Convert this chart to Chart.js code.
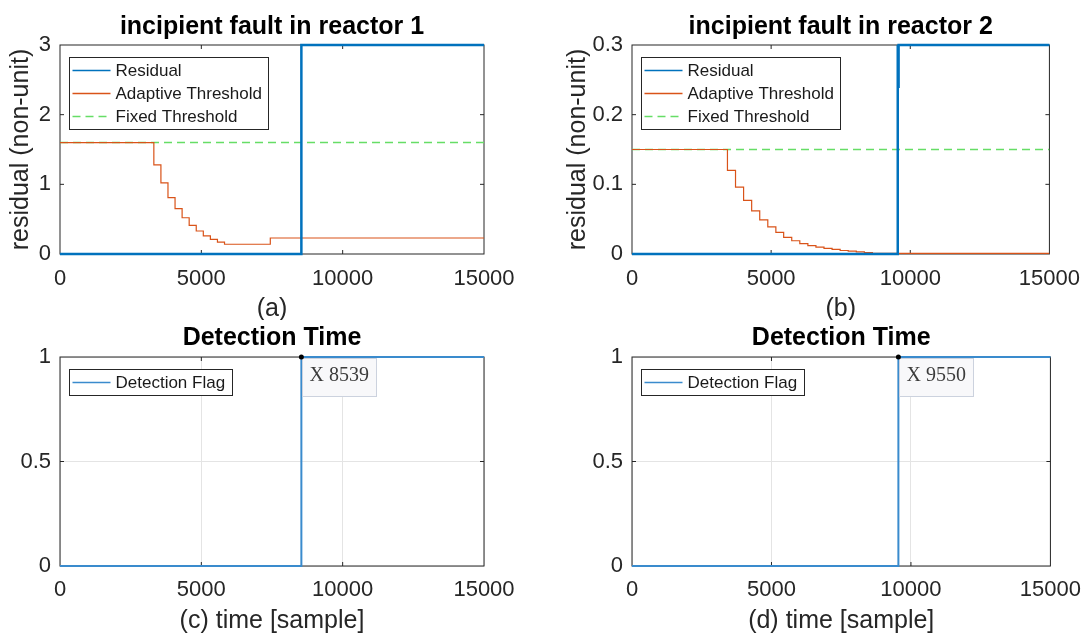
<!DOCTYPE html>
<html>
<head>
<meta charset="utf-8">
<title>Incipient fault detection</title>
<script src="https://cdn.jsdelivr.net/npm/chart.js@4.4.1/dist/chart.umd.min.js"></script>
<style>
    html, body { margin: 0; padding: 0; background: #fff; }
    #page { position: relative; width: 1092px; height: 637px; overflow: hidden; }
    .cell { position: absolute; }
</style>
</head>
<body>
<div id="page">
    <div class="cell" style="left:0;top:0;width:546px;height:320px"><canvas id="panel-a"></canvas></div>
    <div class="cell" style="left:546px;top:0;width:546px;height:320px"><canvas id="panel-b"></canvas></div>
    <div class="cell" style="left:0;top:320px;width:546px;height:317px"><canvas id="panel-c"></canvas></div>
    <div class="cell" style="left:546px;top:320px;width:546px;height:317px"><canvas id="panel-d"></canvas></div>
</div>
<script>
'use strict';

/* ── datos ─────────────────────────────────────────────────────────────── */
const xTicks     = [0, 5000, 10000, 15000];
const yTicksA    = [0, 1, 2, 3];
const yTicksB    = [0, 0.1, 0.2, 0.3];
const yTicksFlag = [0, 0.5, 1];

// (a) reactor 1
const resA_x = [0, 8539, 8539, 15000];
const resA_y = [0, 0, 3, 3];
const adaA_x = [0, 3320, 3570, 3820, 4070, 4320, 4570, 4820, 5070, 5320, 5570, 5820, 7440, 15000];
const adaA_y = [1.6, 1.28, 1.02, 0.81, 0.65, 0.52, 0.41, 0.33, 0.26, 0.21, 0.17, 0.14, 0.23, 0.23];
const fixA_x = [0, 15000];
const fixA_y = [1.6, 1.6];

// (b) reactor 2
const resB_x = [0, 9550, 9550, 9565, 9580, 15000];
const resB_y = [0, 0, 0.3, 0.24, 0.3, 0.3];
const adaB_x = [0, 3430, 3720, 4010, 4300, 4590, 4880, 5170, 5450, 5740, 6030, 6320, 6610, 6900, 7190, 7480, 7770, 8060, 8350, 8640, 15000];
const adaB_y = [0.15, 0.12, 0.096, 0.077, 0.062, 0.049, 0.039, 0.031, 0.024, 0.019, 0.015, 0.012, 0.010, 0.008, 0.0065, 0.005, 0.004, 0.003, 0.002, 0.001, 0.001];
const fixB_x = [0, 15000];
const fixB_y = [0.15, 0.15];

// (c) / (d) detection flags
const flagC_x = [0, 8539, 8539, 15000];
const flagC_y = [0, 0, 1, 1];
const flagD_x = [0, 9550, 9550, 15000];
const flagD_y = [0, 0, 1, 1];
const tipC = [8539, 1];
const tipD = [9550, 1];

/* ── estilos ───────────────────────────────────────────────────────────── */
const AXIS_COLOR = '#262626';
const GRID_COLOR = '#e4e4e4';
const BLUE   = '#0072BD';
const ORANGE = '#D95319';
const GREEN  = '#66dd66';

Chart.defaults.font.family = "'Liberation Sans', Arial, Helvetica, sans-serif";
Chart.defaults.color = AXIS_COLOR;

const pts = (xs, ys) => xs.map((x, i) => ({ x, y: ys[i] }));

/* Caja de ejes estilo MATLAB: marco completo + marcas hacia dentro */
const axesBox = {
    id: 'axesBox',
    beforeDatasetsDraw(chart) {
        const { ctx, chartArea: a, scales } = chart;
        ctx.save();
        ctx.strokeStyle = AXIS_COLOR;
        ctx.lineWidth = 1;
        ctx.strokeRect(a.left, a.top, a.width, a.height);
        ctx.beginPath();
        scales.x.ticks.forEach(t => {
            const px = scales.x.getPixelForValue(t.value);
            if (px <= a.left + 1 || px >= a.right - 1) return;
            ctx.moveTo(px, a.bottom); ctx.lineTo(px, a.bottom - 4);
            ctx.moveTo(px, a.top);    ctx.lineTo(px, a.top + 4);
        });
        scales.y.ticks.forEach(t => {
            const py = scales.y.getPixelForValue(t.value);
            if (py <= a.top + 1 || py >= a.bottom - 1) return;
            ctx.moveTo(a.left, py);  ctx.lineTo(a.left + 4, py);
            ctx.moveTo(a.right, py); ctx.lineTo(a.right - 4, py);
        });
        ctx.stroke();
        ctx.restore();
    }
};

/* Leyenda con borde dentro del área de trazado */
const boxLegend = {
    id: 'boxLegend',
    afterDatasetsDraw(chart) {
        const items = chart.data.datasets;
        const { ctx, chartArea: a } = chart;
        ctx.save();
        ctx.font = "17px 'Liberation Sans', Arial, sans-serif";
        const textW = Math.max(...items.map(d => ctx.measureText(d.label).width));
        const x0 = Math.round(a.left + 9) + 0.5;
        const y0 = Math.round(a.top + 12) + 0.5;
        const rowH = 23;
        const w = Math.round(46 + textW + 7);
        const h = 26 + rowH * (items.length - 1);
        ctx.fillStyle = '#fff';
        ctx.fillRect(x0, y0, w, h);
        ctx.strokeStyle = AXIS_COLOR;
        ctx.lineWidth = 1;
        ctx.strokeRect(x0, y0, w, h);
        items.forEach((d, i) => {
            const cy = y0 + 13 + i * rowH;
            ctx.beginPath();
            ctx.strokeStyle = d.borderColor;
            ctx.lineWidth = 1.5;
            ctx.setLineDash(d.borderDash || []);
            ctx.moveTo(x0 + 3, cy);
            ctx.lineTo(x0 + 41, cy);
            ctx.stroke();
            ctx.setLineDash([]);
            ctx.fillStyle = '#1a1a1a';
            ctx.textBaseline = 'middle';
            ctx.fillText(d.label, x0 + 46, cy + 1);
        });
        ctx.restore();
    }
};

/* Data tip "X nnnn" en el punto de detección */
const dataTip = {
    id: 'dataTip',
    afterDatasetsDraw(chart, args, opts) {
        if (!opts || !opts.point) return;
        const { ctx, scales } = chart;
        const px = scales.x.getPixelForValue(opts.point[0]);
        const py = scales.y.getPixelForValue(opts.point[1]);
        const text = 'X ' + opts.point[0];
        ctx.save();
        ctx.font = "20px 'Liberation Serif', 'Times New Roman', serif";
        const w = Math.round(ctx.measureText(text).width + 15);
        const h = 38;
        const bx = Math.round(px) + 1.5, by = Math.round(py) + 1.5;
        ctx.fillStyle = '#f8f8fa';
        ctx.fillRect(bx, by, w, h);
        ctx.strokeStyle = '#ccd2de';
        ctx.lineWidth = 1;
        ctx.strokeRect(bx, by, w, h);
        ctx.fillStyle = '#3c3c3c';
        ctx.textBaseline = 'middle';
        ctx.fillText(text, bx + 7, by + 17);
        ctx.beginPath();
        ctx.fillStyle = '#000';
        ctx.arc(px, py, 2.5, 0, Math.PI * 2);
        ctx.fill();
        ctx.restore();
    }
};

Chart.register(axesBox, boxLegend, dataTip);

function makePanel(id, p) {
    new Chart(document.getElementById(id), {
        type: 'line',
        data: { datasets: p.datasets },
        options: {
            responsive: true,
            maintainAspectRatio: false,
            animation: false,
            events: [],
            layout: { padding: p.pad },
            elements: { point: { radius: 0 } },
            plugins: {
                legend: { display: false },
                tooltip: { enabled: false },
                title: {
                    display: true,
                    text: p.title,
                    fullSize: false,
                    color: '#000',
                    font: { size: 25, weight: 'bold', lineHeight: 1 },
                    padding: p.titlePad
                },
                dataTip: { point: p.tip || null }
            },
            scales: {
                x: {
                    type: 'linear',
                    min: 0,
                    max: 15000,
                    afterBuildTicks: s => { s.ticks = xTicks.map(v => ({ value: v })); },
                    afterFit: s => { s.height = p.xH; },
                    grid: { display: p.grid, color: GRID_COLOR, drawTicks: false },
                    border: { display: false },
                    ticks: {
                        padding: p.tickPad,
                        font: { size: 22 },
                        maxRotation: 0,
                        autoSkip: false,
                        callback: v => String(v)
                    },
                    title: {
                        display: true,
                        text: p.xTitle,
                        font: { size: 25, lineHeight: 1 },
                        padding: { top: 0, bottom: p.xTitlePad }
                    }
                },
                y: {
                    type: 'linear',
                    min: 0,
                    max: p.yTicks[p.yTicks.length - 1],
                    afterBuildTicks: s => { s.ticks = p.yTicks.map(v => ({ value: v })); },
                    afterFit: s => { s.width = p.yW; },
                    grid: { display: p.grid, color: GRID_COLOR, drawTicks: false },
                    border: { display: false },
                    ticks: {
                        padding: 9,
                        font: { size: 22 },
                        callback: v => String(v)
                    },
                    title: {
                        display: !!p.yTitle,
                        text: p.yTitle || '',
                        font: { size: 25, lineHeight: 1 },
                        padding: { top: p.yTitlePad || 0, bottom: 0 }
                    }
                }
            }
        }
    });
}

const residualDs = (xs, ys) => ({
    label: 'Residual', data: pts(xs, ys),
    borderColor: BLUE, borderWidth: 2.5, pointRadius: 0, clip: false
});
const adaptiveDs = (xs, ys) => ({
    label: 'Adaptive Threshold', data: pts(xs, ys),
    borderColor: ORANGE, borderWidth: 1.2, pointRadius: 0, stepped: 'before'
});
const fixedDs = (xs, ys) => ({
    label: 'Fixed Threshold', data: pts(xs, ys),
    borderColor: GREEN, borderWidth: 1.5, borderDash: [8, 5], pointRadius: 0
});
const flagDs = (xs, ys) => ({
    label: 'Detection Flag', data: pts(xs, ys),
    borderColor: '#3a8bcd', borderWidth: 2, pointRadius: 0, clip: false
});

makePanel('panel-a', {
    datasets: [residualDs(resA_x, resA_y), adaptiveDs(adaA_x, adaA_y), fixedDs(fixA_x, fixA_y)],
    pad: { left: 0, right: 62, top: 0, bottom: 0 },
    title: 'incipient fault in reactor 1', titlePad: { top: 14.5, bottom: 5.5 },
    yW: 60, yTitle: 'residual (non-unit)', yTitlePad: 8.5, yTicks: yTicksA,
    xH: 66, xTitle: '(a)', xTitlePad: -2, tickPad: 12, grid: false
});

makePanel('panel-b', {
    datasets: [residualDs(resB_x, resB_y), adaptiveDs(adaB_x, adaB_y), fixedDs(fixB_x, fixB_y)],
    pad: { left: 0, right: 34, top: 0, bottom: 0 },
    title: 'incipient fault in reactor 2', titlePad: { top: 14.5, bottom: 5.5 },
    yW: 86, yTitle: 'residual (non-unit)', yTitlePad: 19.5, yTicks: yTicksB,
    xH: 66, xTitle: '(b)', xTitlePad: -2, tickPad: 12, grid: false
});

makePanel('panel-c', {
    datasets: [flagDs(flagC_x, flagC_y)],
    pad: { left: 0, right: 62, top: 0, bottom: 0 },
    title: 'Detection Time', titlePad: { top: 5.5, bottom: 6.5 },
    yW: 60, yTicks: yTicksFlag,
    xH: 71, xTitle: '(c) time [sample]', xTitlePad: 3, tickPad: 11, grid: true,
    tip: tipC
});

makePanel('panel-d', {
    datasets: [flagDs(flagD_x, flagD_y)],
    pad: { left: 0, right: 34, top: 0, bottom: 0 },
    title: 'Detection Time', titlePad: { top: 5.5, bottom: 6.5 },
    yW: 86, yTicks: yTicksFlag,
    xH: 71, xTitle: '(d) time [sample]', xTitlePad: 3, tickPad: 11, grid: true,
    tip: tipD
});
</script>
</body>
</html>
